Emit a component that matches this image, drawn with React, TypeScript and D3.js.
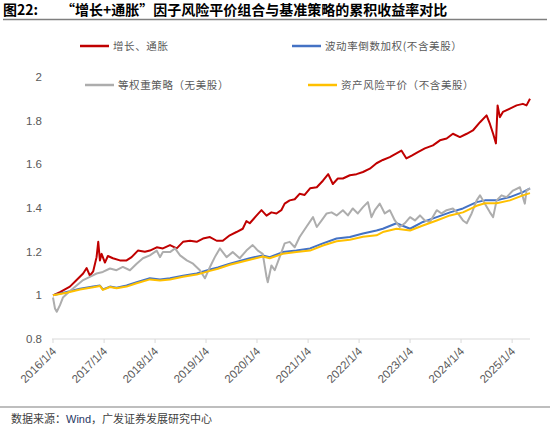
import React from "react";
import * as d3 from "d3";

type Pt = [string, number];

// 增长、通胀
const growthInflation: Pt[] = [
  ["2016-01-04", 1.0], ["2016-02-23", 1.015], ["2016-05-04", 1.04], ["2016-06-21", 1.07],
  ["2016-08-07", 1.1], ["2016-09-01", 1.125], ["2016-09-24", 1.09], ["2016-10-18", 1.11],
  ["2016-11-11", 1.175], ["2016-11-23", 1.245], ["2016-12-05", 1.16], ["2016-12-17", 1.19],
  ["2017-01-10", 1.15], ["2017-01-31", 1.18], ["2017-03-08", 1.17], ["2017-04-27", 1.16],
  ["2017-06-14", 1.16], ["2017-07-20", 1.175], ["2017-09-03", 1.205], ["2017-10-23", 1.2],
  ["2017-11-28", 1.205], ["2018-01-16", 1.22], ["2018-03-01", 1.215], ["2018-04-21", 1.23],
  ["2018-06-08", 1.215], ["2018-07-23", 1.245], ["2018-09-11", 1.25], ["2018-10-29", 1.245],
  ["2018-12-13", 1.26], ["2019-02-01", 1.267], ["2019-03-21", 1.25], ["2019-05-04", 1.25],
  ["2019-06-23", 1.275], ["2019-08-10", 1.29], ["2019-09-24", 1.305], ["2019-10-20", 1.34],
  ["2019-11-13", 1.33], ["2019-12-31", 1.365], ["2020-02-05", 1.39], ["2020-03-12", 1.365],
  ["2020-04-16", 1.38], ["2020-05-22", 1.375], ["2020-06-26", 1.39], ["2020-07-20", 1.42],
  ["2020-08-25", 1.435], ["2020-09-30", 1.44], ["2020-11-04", 1.465], ["2020-12-10", 1.46],
  ["2021-01-18", 1.49], ["2021-03-07", 1.495], ["2021-04-20", 1.525], ["2021-05-28", 1.555],
  ["2021-06-30", 1.51], ["2021-08-05", 1.535], ["2021-09-10", 1.535], ["2021-10-30", 1.55],
  ["2021-12-17", 1.555], ["2022-02-01", 1.565], ["2022-03-22", 1.58], ["2022-05-09", 1.605],
  ["2022-06-23", 1.62], ["2022-08-12", 1.633], ["2022-09-29", 1.65], ["2022-11-03", 1.663],
  ["2022-12-09", 1.627], ["2023-01-16", 1.64], ["2023-03-01", 1.656], ["2023-04-20", 1.673],
  ["2023-06-17", 1.687], ["2023-08-06", 1.71], ["2023-09-23", 1.718], ["2023-11-07", 1.74],
  ["2023-12-27", 1.725], ["2024-02-14", 1.74], ["2024-03-29", 1.755], ["2024-05-19", 1.793],
  ["2024-07-05", 1.824], ["2024-07-29", 1.785], ["2024-08-21", 1.74], ["2024-09-10", 1.696],
  ["2024-09-22", 1.87], ["2024-10-08", 1.816], ["2024-10-30", 1.84], ["2024-12-19", 1.855],
  ["2025-02-05", 1.87], ["2025-03-22", 1.877], ["2025-04-17", 1.87], ["2025-05-12", 1.9],
];

// 波动率倒数加权(不含美股)
const invVol: Pt[] = [
  ["2016-01-04", 1.0], ["2016-04-11", 1.015], ["2016-07-15", 1.03], ["2016-10-18", 1.04],
  ["2016-12-05", 1.045], ["2016-12-26", 1.027], ["2017-02-15", 1.04], ["2017-04-03", 1.035],
  ["2017-06-14", 1.045], ["2017-08-25", 1.06], ["2017-11-28", 1.078], ["2018-02-08", 1.073],
  ["2018-04-21", 1.078], ["2018-07-23", 1.09], ["2018-10-29", 1.1], ["2019-02-01", 1.118],
  ["2019-03-30", 1.128], ["2019-06-23", 1.145], ["2019-11-13", 1.17], ["2020-02-14", 1.183],
  ["2020-04-04", 1.175], ["2020-07-06", 1.198], ["2020-10-12", 1.205], ["2021-01-18", 1.215],
  ["2021-04-20", 1.238], ["2021-07-27", 1.26], ["2021-10-30", 1.267], ["2022-02-01", 1.283],
  ["2022-05-09", 1.297], ["2022-06-23", 1.305], ["2022-09-29", 1.33], ["2023-01-04", 1.305],
  ["2023-04-06", 1.336], ["2023-07-14", 1.358], ["2023-10-17", 1.38], ["2024-01-18", 1.398],
  ["2024-04-25", 1.427], ["2024-06-23", 1.435], ["2024-09-15", 1.435], ["2024-12-19", 1.45],
  ["2025-03-22", 1.473], ["2025-05-12", 1.49],
];

// 等权重策略（无美股）
const equalWeight: Pt[] = [
  ["2016-01-04", 0.99], ["2016-01-18", 0.94], ["2016-01-31", 0.925], ["2016-02-23", 0.955],
  ["2016-03-15", 0.99], ["2016-05-04", 1.02], ["2016-06-21", 1.045], ["2016-08-07", 1.07],
  ["2016-09-24", 1.085], ["2016-11-11", 1.1], ["2016-12-26", 1.107], ["2017-02-15", 1.123],
  ["2017-04-03", 1.115], ["2017-05-18", 1.13], ["2017-07-08", 1.115], ["2017-08-25", 1.145],
  ["2017-10-09", 1.17], ["2017-11-28", 1.183], ["2018-01-16", 1.205], ["2018-02-08", 1.175],
  ["2018-03-01", 1.198], ["2018-04-21", 1.198], ["2018-05-27", 1.215], ["2018-07-02", 1.183],
  ["2018-08-19", 1.16], ["2018-10-03", 1.145], ["2018-11-21", 1.115], ["2018-12-27", 1.078],
  ["2019-02-01", 1.13], ["2019-03-08", 1.175], ["2019-04-13", 1.215], ["2019-05-31", 1.175],
  ["2019-07-14", 1.198], ["2019-09-02", 1.17], ["2019-10-20", 1.205], ["2019-12-04", 1.23],
  ["2020-01-10", 1.205], ["2020-02-14", 1.19], ["2020-03-12", 1.085], ["2020-03-21", 1.06],
  ["2020-04-16", 1.137], ["2020-05-10", 1.115], ["2020-06-14", 1.175], ["2020-07-20", 1.238],
  ["2020-08-25", 1.245], ["2020-09-30", 1.22], ["2020-11-04", 1.267], ["2020-12-22", 1.313],
  ["2021-02-08", 1.358], ["2021-03-07", 1.313], ["2021-04-11", 1.343], ["2021-05-17", 1.375],
  ["2021-06-21", 1.38], ["2021-07-27", 1.366], ["2021-09-10", 1.39], ["2021-10-16", 1.366],
  ["2021-11-20", 1.398], ["2021-12-26", 1.375], ["2022-02-01", 1.404], ["2022-03-08", 1.427],
  ["2022-04-03", 1.358], ["2022-04-27", 1.39], ["2022-06-01", 1.42], ["2022-07-07", 1.375],
  ["2022-08-12", 1.39], ["2022-09-17", 1.343], ["2022-10-22", 1.313], ["2022-11-27", 1.33],
  ["2023-01-04", 1.358], ["2023-02-08", 1.343], ["2023-03-16", 1.366], ["2023-04-20", 1.343],
  ["2023-05-26", 1.336], ["2023-07-14", 1.39], ["2023-08-18", 1.375], ["2023-09-23", 1.39],
  ["2023-11-07", 1.398], ["2023-12-13", 1.375], ["2024-01-18", 1.343], ["2024-02-14", 1.33],
  ["2024-03-20", 1.375], ["2024-04-25", 1.435], ["2024-05-19", 1.458], ["2024-06-23", 1.42],
  ["2024-07-29", 1.38], ["2024-08-21", 1.358], ["2024-09-15", 1.435], ["2024-10-20", 1.458],
  ["2024-11-25", 1.45], ["2025-01-10", 1.48], ["2025-03-01", 1.495], ["2025-04-05", 1.42],
  ["2025-04-17", 1.48], ["2025-05-12", 1.49],
];

// 资产风险平价（不含美股）
const assetRiskParity: Pt[] = [
  ["2016-01-04", 1.0], ["2016-04-11", 1.012], ["2016-07-15", 1.027], ["2016-10-18", 1.037],
  ["2016-12-05", 1.043], ["2016-12-26", 1.025], ["2017-02-15", 1.038], ["2017-04-03", 1.032],
  ["2017-06-14", 1.04], ["2017-08-25", 1.055], ["2017-11-28", 1.073], ["2018-02-08", 1.068],
  ["2018-04-21", 1.073], ["2018-07-23", 1.085], ["2018-10-29", 1.095], ["2019-02-01", 1.112],
  ["2019-03-30", 1.122], ["2019-06-23", 1.14], ["2019-11-13", 1.163], ["2020-02-14", 1.178],
  ["2020-04-04", 1.17], ["2020-07-06", 1.19], ["2020-10-12", 1.198], ["2021-01-18", 1.205],
  ["2021-04-20", 1.228], ["2021-07-27", 1.248], ["2021-10-30", 1.255], ["2022-02-01", 1.268],
  ["2022-05-09", 1.275], ["2022-06-23", 1.29], ["2022-09-29", 1.305], ["2023-01-04", 1.297],
  ["2023-04-06", 1.32], ["2023-07-14", 1.343], ["2023-10-17", 1.366], ["2024-01-18", 1.38],
  ["2024-04-25", 1.41], ["2024-06-23", 1.422], ["2024-09-15", 1.422], ["2024-12-19", 1.435],
  ["2025-03-22", 1.458], ["2025-05-12", 1.468],
];

const xTickLabels = [
  "2016/1/4", "2017/1/4", "2018/1/4", "2019/1/4", "2020/1/4",
  "2021/1/4", "2022/1/4", "2023/1/4", "2024/1/4", "2025/1/4",
];
const yTicks = [0.8, 1, 1.2, 1.4, 1.6, 1.8, 2];

const seriesNames = [
  "增长、通胀",
  "波动率倒数加权(不含美股）",
  "等权重策略（无美股）",
  "资产风险平价（不含美股）",
];

const parseDay = d3.timeParse("%Y-%m-%d");
const parseTick = d3.timeParse("%Y/%m/%d");

const App: React.FC = () => {
  const x = d3
    .scaleTime()
    .domain([parseDay("2016-01-04")!, parseDay("2025-05-12")!])
    .range([53, 530]);
  const y = d3.scaleLinear().domain([0.8, 2]).range([339, 77]);

  const line = d3
    .line<Pt>()
    .x((d) => x(parseDay(d[0])!))
    .y((d) => y(d[1]));

  const series = [
    { name: seriesNames[0], data: growthInflation, color: "#C00000", lx: 80, ly: 46 },
    { name: seriesNames[1], data: invVol, color: "#4472C4", lx: 292, ly: 46 },
    { name: seriesNames[2], data: equalWeight, color: "#ADADAD", lx: 85, ly: 85 },
    { name: seriesNames[3], data: assetRiskParity, color: "#FFC000", lx: 308, ly: 85 },
  ];

  const cjk = "'Noto Sans CJK SC', sans-serif";
  const latin = "'Liberation Sans', Arial, sans-serif";

  return (
    <div style={{ position: "fixed", left: 0, top: 0 }}>
      <svg width={550} height={427} style={{ display: "block", background: "#fff" }}>
        {/* 标题 */}
        <text x={3} y={15} fontFamily={cjk} fontWeight="bold" fontSize={14} fill="#000">
          图22:
        </text>
        <text x={61} y={15} fontFamily={cjk} fontWeight="bold" fontSize={14} fill="#000">
          “增长+通胀”因子风险平价组合与基准策略的累积收益率对比
        </text>
        <line x1={3} x2={547} y1={19.5} y2={19.5} stroke="#7f7f7f" strokeWidth={1.5} />

        {/* 图例 */}
        {series.map((s) => (
          <g key={s.name}>
            <line x1={s.lx} x2={s.lx + 29} y1={s.ly} y2={s.ly} stroke={s.color} strokeWidth={2.5} />
            <text
              x={s.lx + 33}
              y={s.ly + 4}
              fontFamily={cjk}
              fontSize={10.5}
              fill="#595959"
              letterSpacing={0.6}
            >
              {s.name}
            </text>
          </g>
        ))}

        {/* Y轴 */}
        {yTicks.map((t) => (
          <text
            key={t}
            x={42}
            y={y(t) + 4}
            textAnchor="end"
            fontFamily={latin}
            fontSize={11.5}
            fill="#595959"
          >
            {t}
          </text>
        ))}

        {/* X轴 */}
        <line x1={52} x2={530} y1={339} y2={339} stroke="#d9d9d9" strokeWidth={1} />
        {xTickLabels.map((lab) => {
          const tx = x(parseTick(lab)!);
          return (
            <g key={lab}>
              <line x1={tx} x2={tx} y1={339} y2={343} stroke="#d9d9d9" />
              <text
                transform={`translate(${tx + 4},${352}) rotate(-45)`}
                textAnchor="end"
                fontFamily={latin}
                fontSize={11.5}
                fill="#595959"
              >
                {lab}
              </text>
            </g>
          );
        })}

        {/* 折线 */}
        {series.map((s) => (
          <path
            key={s.name}
            d={line(s.data)!}
            fill="none"
            stroke={s.color}
            strokeWidth={2}
            strokeLinejoin="round"
          />
        ))}

        {/* 数据来源 */}
        <line x1={0} x2={550} y1={407} y2={407} stroke="#7f7f7f" strokeWidth={1.2} />
        <text x={11} y={423} fontFamily={cjk} fontSize={11} fill="#404040">
          数据来源：<tspan fill="#1F3864" fontFamily={latin}>Wind</tspan>，广发证券发展研究中心
        </text>
      </svg>
    </div>
  );
};

export default App;
